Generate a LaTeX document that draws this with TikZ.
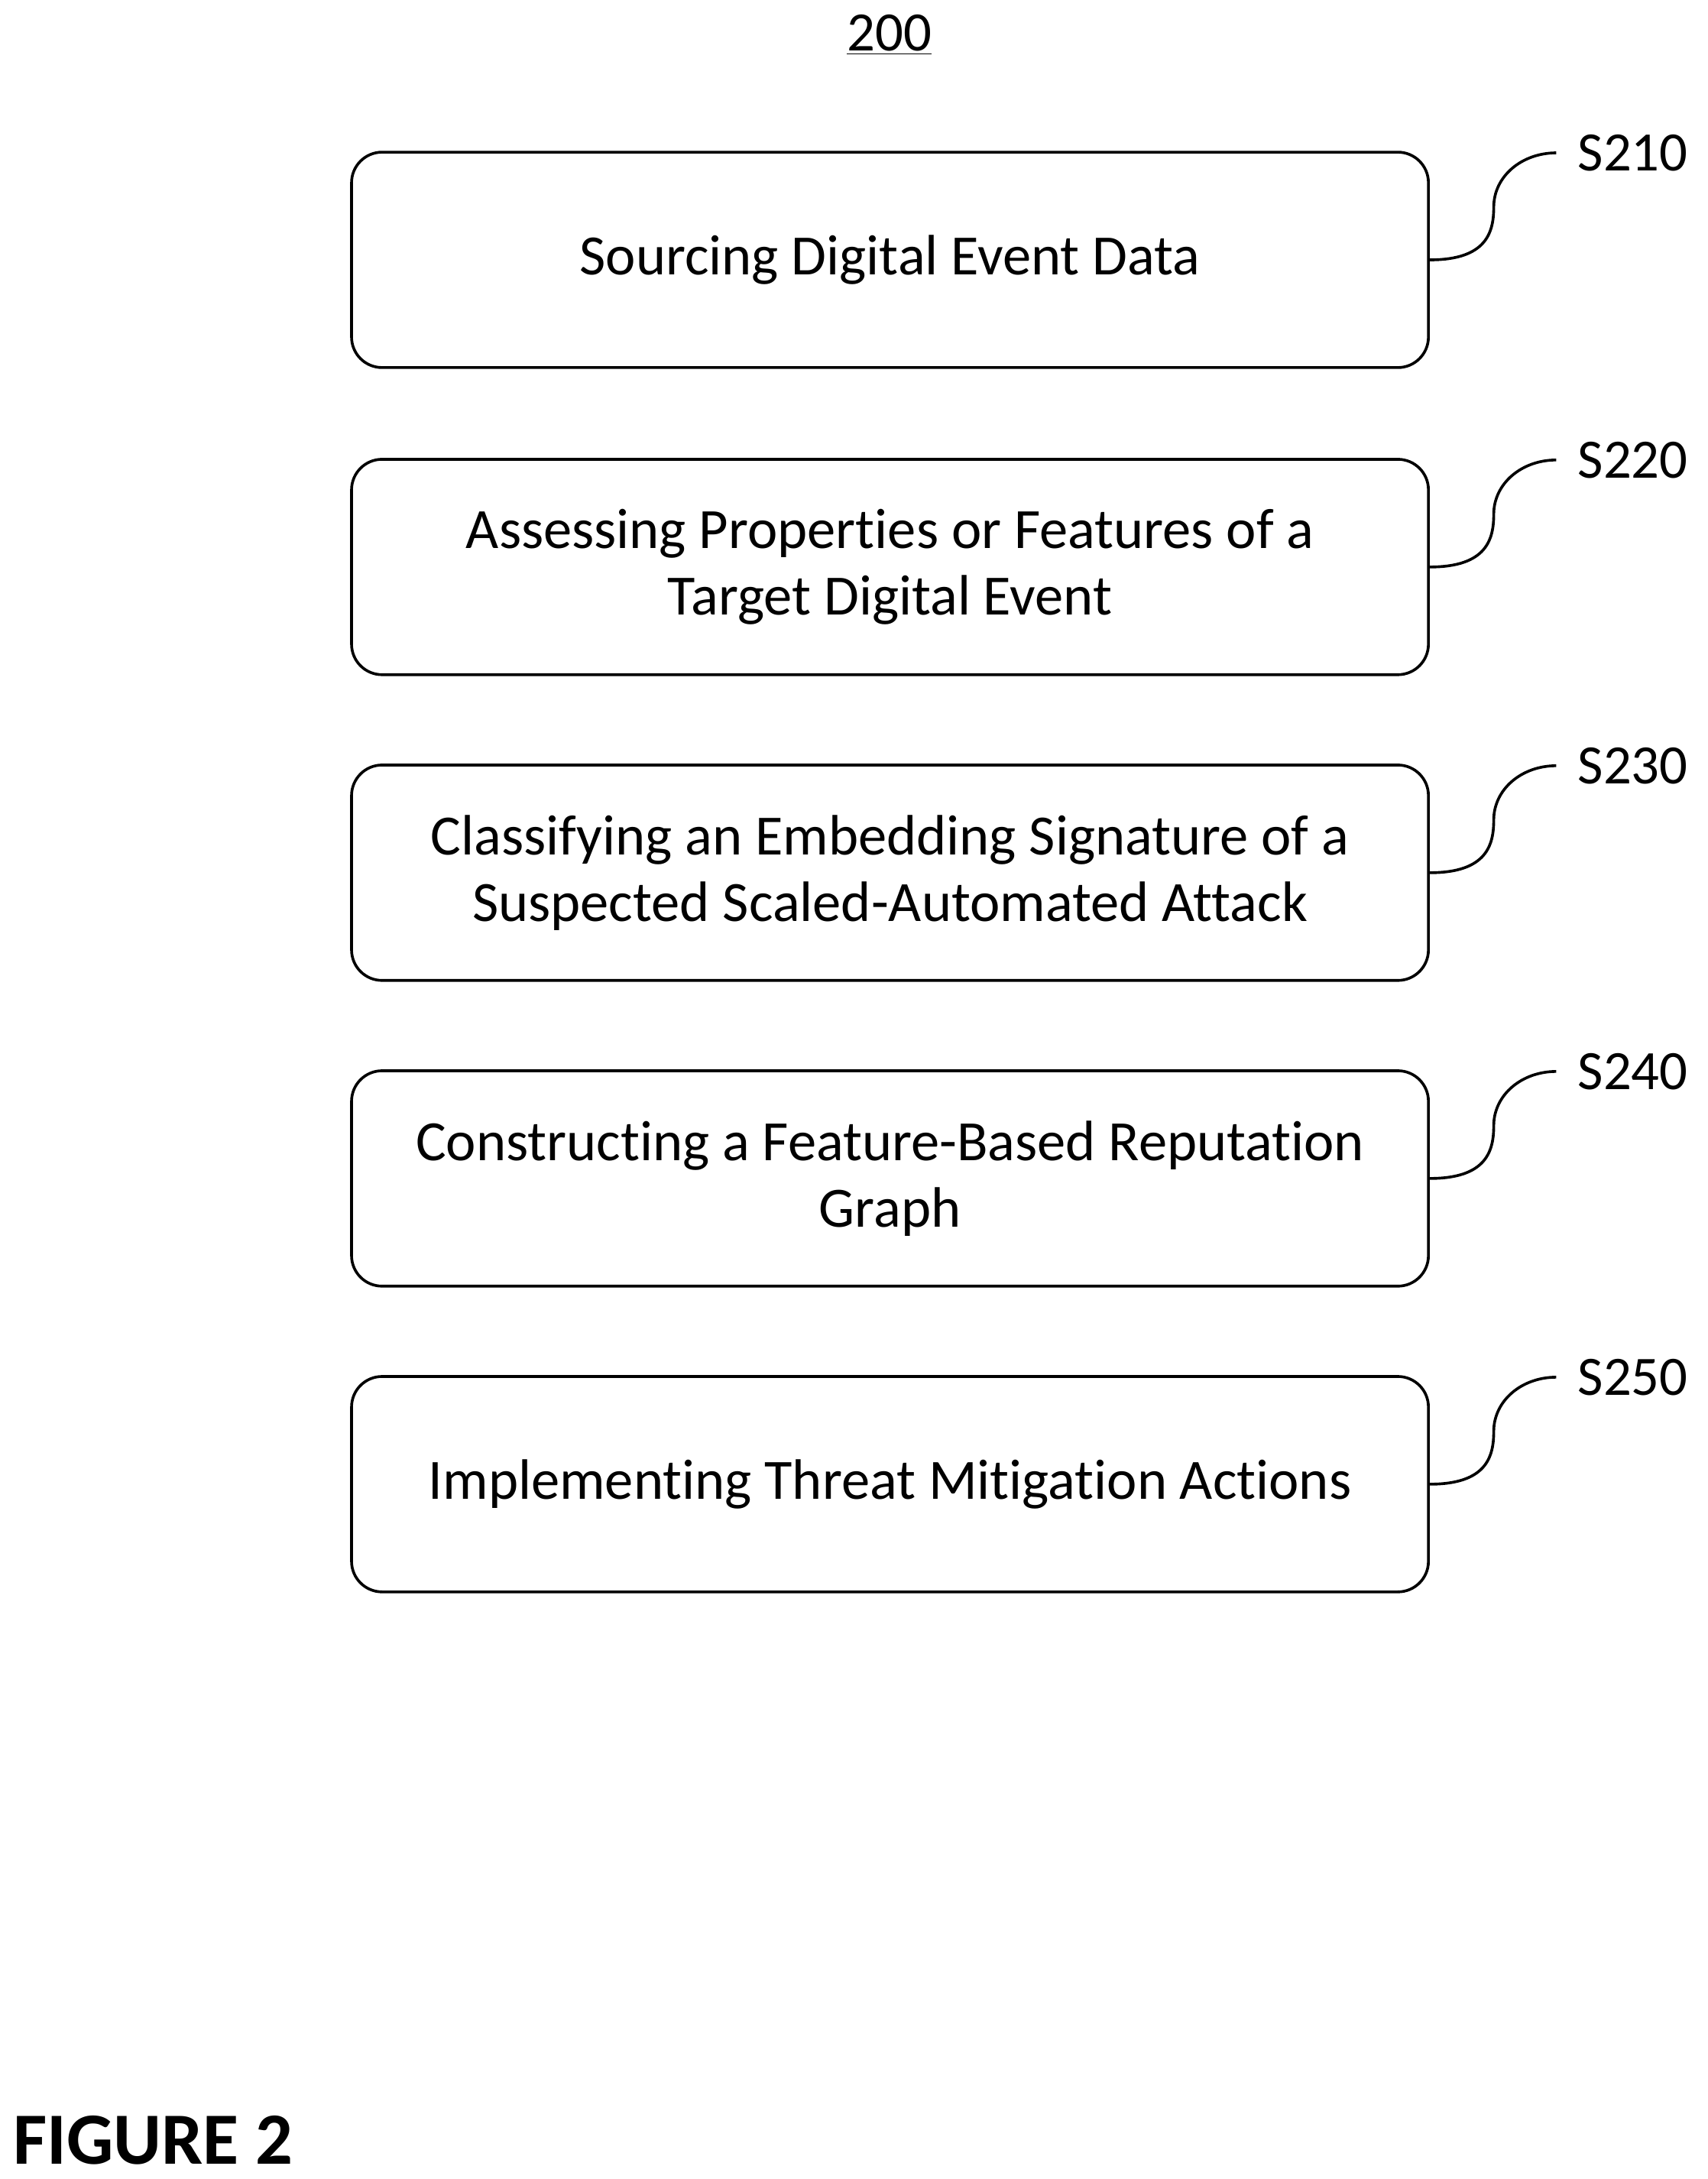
\documentclass[tikz,border=0pt]{standalone}
\usepackage{fontspec}
\setmainfont{Carlito}[Ligatures=NoCommon]
\begin{document}
\begin{tikzpicture}[x=1pt,y=-1pt,
  box/.style={draw,line width=2pt,rounded corners=22pt,minimum width=775pt,minimum height=155pt,align=center,font=\fontsize{41}{48}\selectfont},
  lab/.style={anchor=west,font=\fontsize{40}{44}\selectfont},
  conn/.style={line width=2pt}]
\useasboundingbox (0,0) rectangle (1229,1568);
\node[font=\fontsize{40}{44}\selectfont] (t) at (640,25) {\underline{200}};
\foreach \i/\y/\txt in {1/187/Sourcing Digital Event Data,
  2/408/Assessing Properties or Features of a\\Target Digital Event,
  3/628/Classifying an Embedding Signature of a\\Suspected Scaled-Automated Attack,
  4/848/Constructing a Feature-Based Reputation\\Graph,
  5/1068/Implementing Threat Mitigation Actions}{
  \node[box] (b\i) at (640.5,\y) {\txt};
  \node[lab] (l\i) at (1132,\y-77) {S2\i0};
  \coordinate (c\i) at (1120,\y-77);
  \draw[conn] (b\i.east) .. controls (1070,\y) and (1075,\y-20) .. (1075,\y-38)
     .. controls (1075,\y-60) and (1095,\y-77) .. (c\i);
}
\node[anchor=west,font=\bfseries\fontsize{53}{60}\selectfont] (f) at (6,1540) {FIGURE 2};
\end{tikzpicture}
\end{document}
